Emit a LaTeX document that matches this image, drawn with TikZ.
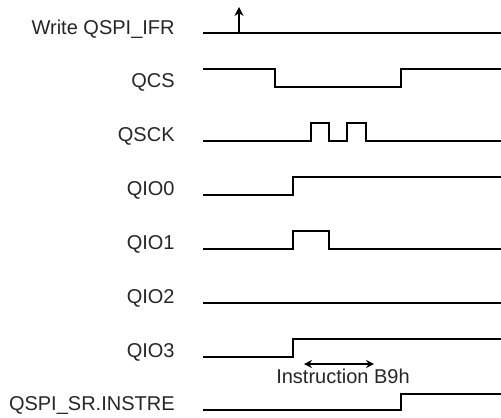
\documentclass[tikz,border=0pt]{standalone}
\usepackage{fontspec}
\setmainfont{Liberation Sans}
\usetikzlibrary{arrows.meta,positioning}

\begin{document}
\begin{tikzpicture}[
    x=0.5pt, y=-0.5pt,
    signame/.style={anchor=base east, inner sep=0pt, text=black!85, font=\fontsize{10}{12}\selectfont},
    note/.style={anchor=base, inner sep=0pt, text=black!85, font=\fontsize{10}{12}\selectfont},
    wave/.style={line width=1.15pt, line join=miter},
    arrow/.style={line width=0.9pt,-{Stealth[length=4.5pt,width=4.5pt]}},
    dblarrow/.style={line width=0.9pt,{Stealth[length=4pt,width=4pt]}-{Stealth[length=4pt,width=4pt]}}
]
\useasboundingbox (0,0) rectangle (501,417);

% Signal names
\node[signame] (ifr) at (175,35) {Write QSPI\_IFR};
\node[signame] (qcs) at (175,87) {QCS};
\node[signame] (qsck) at (175,141) {QSCK};
\node[signame] (qio0) at (175,195) {QIO0};
\node[signame] (qio1) at (175,249) {QIO1};
\node[signame] (qio2) at (175,303) {QIO2};
\node[signame] (qio3) at (175,357) {QIO3};
\node[signame] (instre) at (175,410) {QSPI\_SR.INSTRE};

% Waveforms
\draw[wave] (203,33) -- (501,33);
\draw[wave] (203,69) -- (275,69) -- (275,87) -- (401,87) -- (401,69) -- (501,69);
\draw[wave] (203,141) -- (311,141) -- (311,123) -- (329,123) -- (329,141)
    -- (347,141) -- (347,123) -- (366,123) -- (366,141) -- (501,141);
\draw[wave] (203,195) -- (293,195) -- (293,177) -- (501,177);
\draw[wave] (203,249) -- (293,249) -- (293,231) -- (329,231) -- (329,249) -- (501,249);
\draw[wave] (203,303) -- (501,303);
\draw[wave] (203,357) -- (293,357) -- (293,339) -- (501,339);
\draw[wave] (203,410) -- (401,410) -- (401,394) -- (501,394);

% Write event and instruction phase
\coordinate (wrbase) at (239,33);
\coordinate (wrtop) at (239,7);
\draw[arrow] (wrbase) -- (wrtop);
\coordinate (instrL) at (304,364);
\coordinate (instrR) at (374,364);
\draw[dblarrow] (instrL) -- (instrR);
\node[note] (instr) at (343,383) {Instruction B9h};

\end{tikzpicture}
\end{document}
